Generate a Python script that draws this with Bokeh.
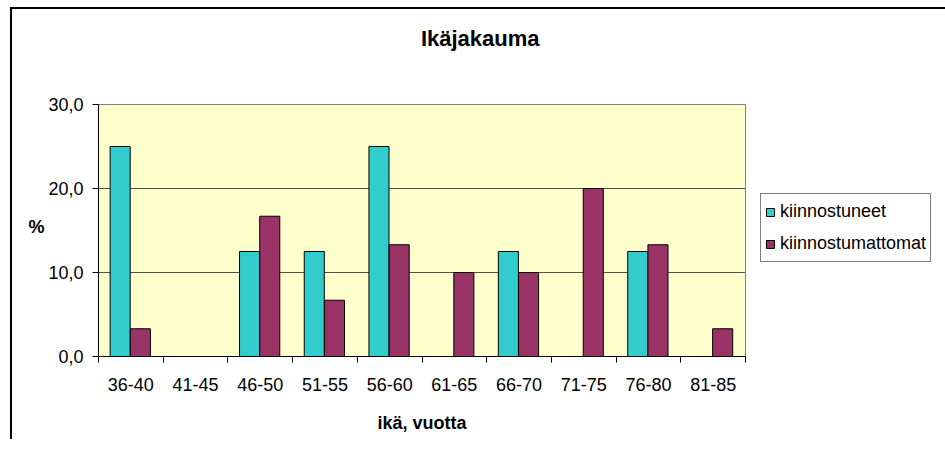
from bokeh.plotting import figure
from bokeh.models import (Range1d, FixedTicker, Legend, LegendItem, ColumnDataSource, LinearAxis)
from bokeh.embed import file_html
from bokeh.resources import INLINE

# ---- data ----
categories = ["36-40", "41-45", "46-50", "51-55", "56-60", "61-65", "66-70", "71-75", "76-80", "81-85"]
kiinnostuneet = [25.0, 0.0, 12.5, 12.5, 25.0, 0.0, 12.5, 0.0, 12.5, 0.0]
kiinnostumattomat = [3.3, 0.0, 16.7, 6.7, 13.3, 10.0, 10.0, 20.0, 13.3, 3.3]
y_ticks = [0, 10, 20, 30]
y_tick_labels = ["0,0", "10,0", "20,0", "30,0"]
series_names = ["kiinnostuneet", "kiinnostumattomat"]
title_text = "Ikäjakauma"
title_pos = 5.9
x_title = "ikä, vuotta"
y_title = "%"
y_title_pos = 15.36

FONT = "Liberation Sans"
CYAN = "#33CCCC"
MAROON = "#993366"

n = len(categories)
idx = list(range(n))
BAR_W = 0.31

src1 = ColumnDataSource(dict(x=[i + 0.335 for i in idx], top=kiinnostuneet))
src2 = ColumnDataSource(dict(x=[i + 0.647 for i in idx], top=kiinnostumattomat))

p = figure(frame_width=647, frame_height=252, output_backend="svg", toolbar_location=None,
           x_range=Range1d(0, n), y_range=Range1d(0, 30),
           min_border_left=98, min_border_top=104, min_border_right=184, min_border_bottom=83)
p.border_fill_alpha = 0
p.styles = {
    "background": "linear-gradient(#000, #000) 10px 7px / 2px 100% no-repeat, "
                  "linear-gradient(#000, #000) 10px 7px / 100% 2px no-repeat, #ffffff"
}

p.background_fill_color = "#FFFFCC"
p.outline_line_color = "#808080"
p.outline_line_width = 1

r1 = p.vbar(x="x", top="top", width=BAR_W, bottom=0, source=src1,
            fill_color=CYAN, line_color="black", line_width=1)
r2 = p.vbar(x="x", top="top", width=BAR_W, bottom=0, source=src2,
            fill_color=MAROON, line_color="black", line_width=1)

# x axis: labels at centers, ticks at category boundaries
xa = p.xaxis[0]
xa.ticker = FixedTicker(ticks=[i + 0.5 for i in idx], minor_ticks=list(range(n + 1)))
xa.major_label_overrides = {i + 0.5: c for i, c in zip(idx, categories)}
xa.major_tick_out = 0
xa.major_tick_in = 0
xa.minor_tick_out = 6
xa.minor_tick_in = 0
xa.minor_tick_line_color = "black"
xa.axis_line_color = "black"
xa.major_label_standoff = 15
xa.major_label_text_font = FONT
xa.major_label_text_font_size = "18px"
xa.major_label_text_color = "black"
xa.axis_label = x_title
xa.axis_label_text_font = FONT
xa.axis_label_text_font_size = "18px"
xa.axis_label_text_font_style = "bold"
xa.axis_label_text_color = "black"
xa.axis_label_standoff = 19

ya = p.yaxis[0]
ya.ticker = FixedTicker(ticks=y_ticks, minor_ticks=[])
ya.major_label_overrides = {t: l for t, l in zip(y_ticks, y_tick_labels)}
ya.major_tick_out = 6
ya.major_tick_in = 0
ya.major_tick_line_color = "black"
ya.axis_line_color = "black"
ya.major_label_standoff = 9
ya.major_label_text_font = FONT
ya.major_label_text_font_size = "18px"
ya.major_label_text_color = "black"

# horizontal "%" title as an extra, line-less axis
ylab = LinearAxis(ticker=FixedTicker(ticks=[y_title_pos], minor_ticks=[]),
                  major_label_overrides={y_title_pos: y_title},
                  axis_line_color=None, major_tick_line_color=None, minor_tick_line_color=None,
                  major_tick_out=0, major_tick_in=0, minor_tick_out=0, minor_tick_in=0,
                  major_label_standoff=1, major_label_text_font=FONT,
                  major_label_text_font_size="18px", major_label_text_font_style="bold",
                  major_label_text_color="black")
p.add_layout(ylab, "left")

# chart title as an extra, line-less axis above
tax = LinearAxis(ticker=FixedTicker(ticks=[title_pos], minor_ticks=[]),
                 major_label_overrides={title_pos: title_text},
                 axis_line_color=None, major_tick_line_color=None, minor_tick_line_color=None,
                 major_tick_out=0, major_tick_in=0, minor_tick_out=0, minor_tick_in=0,
                 major_label_standoff=54, major_label_text_font=FONT,
                 major_label_text_font_size="22px", major_label_text_font_style="bold",
                 major_label_text_color="black")
p.add_layout(tax, "above")

p.xgrid.visible = False
p.ygrid.ticker = FixedTicker(ticks=[10, 20])
p.ygrid.grid_line_color = "#505050"
p.ygrid.grid_line_width = 1

legend = Legend(items=[LegendItem(label=series_names[0], renderers=[r1]),
                       LegendItem(label=series_names[1], renderers=[r2])],
                location=(15, 94), orientation="vertical",
                border_line_color="black", border_line_width=1,
                background_fill_color="white", background_fill_alpha=1,
                label_text_font=FONT, label_text_font_size="18px", label_text_color="black",
                glyph_width=10, glyph_height=10, label_standoff=5,
                label_height=27, spacing=5, padding=4, margin=0)
p.add_layout(legend, "right")

open("out.html", "w").write(file_html(p, INLINE))
